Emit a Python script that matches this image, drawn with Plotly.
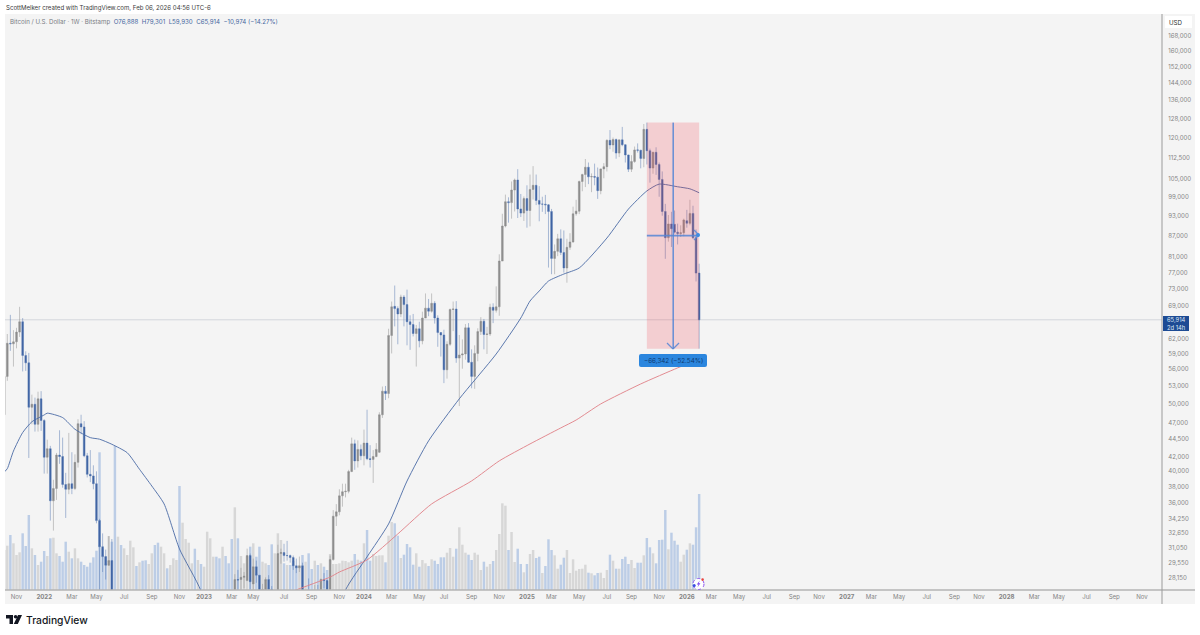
import pandas as pd
import plotly.graph_objects as go

W, H = 1200, 635
FONT = "Inter"

# weekly bars, Bitstamp BTCUSD
start_week = "2021-10-04"

week_open = [
    48200, 54700, 61000, 60900, 61300, 63300, 65500, 58600, 57200, 49400,
    49900, 46700, 50800, 47300, 41900, 43100, 36300, 37800, 42200, 42000,
    38300, 37700, 38400, 37800, 41200, 46800, 46300, 42100, 39600, 39400,
    38400, 34000, 31200, 30200, 29350, 29800, 26600, 20500, 21000, 19300,
    20800, 20850, 22600, 23300, 23200, 24300, 21500, 19600, 19990, 21800,
    19400, 18800, 19050, 19400, 19250, 19550, 20600, 20900, 16300, 16300,
    16400, 17100, 17100, 16800, 16850, 16600, 16900, 21100, 23100, 23700,
    23400, 21800, 24600, 23500, 22400, 20500, 28000, 28000, 28200, 27900,
    30300, 27600, 29200, 28400, 26900, 26900, 28000, 27100, 25800, 26500,
    30500, 30600, 30300, 30300, 30100, 29300, 29100, 29300, 26100, 26100,
    25900, 25800, 26500, 26300, 28000, 27900, 27100, 29900, 34500, 35000,
    36900, 37400, 37450, 39970, 43800, 41400, 43000, 42100, 43900, 41700,
    41600, 42000, 42600, 48200, 52100, 51700, 62600, 68900, 68400, 67200,
    71050, 69300, 65500, 64900, 63000, 64000, 61500, 66300, 68500, 67800,
    69600, 66300, 63200, 62700, 55900, 60800, 68200, 68300, 58100, 58700,
    58900, 64200, 57300, 54700, 59000, 63400, 65600, 62800, 62900, 68700,
    68000, 68800, 80000, 89800, 97300, 97000, 101100, 104500, 95000, 93700,
    98300, 94500, 101300, 102700, 97700, 96500, 96500, 96300, 94200, 80700,
    82600, 86100, 82300, 78200, 83700, 85200, 93500, 94300, 104000, 106400,
    109000, 105600, 105700, 105500, 100900, 108400, 109200, 119100, 117300, 119400,
    114200, 119300, 117400, 113500, 108300, 111100, 115400, 115300, 112200, 123500,
    115100, 108700, 114500, 110000, 104700, 94200, 86400, 90400, 90300, 88000,
    87600, 87800, 91400, 90600, 93600, 86400, 76888,
]
week_high = [
    56600, 62900, 67000, 63700, 64200, 68800, 66300, 59400, 59100, 51500,
    51000, 52000, 52100, 47500, 44400, 43500, 38900, 42500, 45800, 44700,
    39800, 45400, 42600, 42300, 47500, 48200, 47200, 42500, 42900, 40800,
    40000, 34200, 32600, 30900, 32300, 32000, 26900, 21900, 21500, 22400,
    21700, 24200, 24700, 23500, 25200, 25000, 21900, 20600, 22400, 22800,
    19700, 20300, 20500, 19900, 19700, 21000, 21400, 21000, 17200, 16800,
    17300, 17400, 18400, 17100, 16950, 17000, 21300, 23400, 23900, 24300,
    23500, 25200, 25100, 23900, 22600, 28500, 28900, 29100, 28700, 31000,
    30500, 30000, 29800, 28400, 27600, 28200, 28400, 27400, 26800, 31400,
    31000, 31500, 31800, 30400, 30300, 30000, 30200, 29600, 26800, 28100,
    26400, 27500, 27500, 28100, 28600, 28000, 30300, 35200, 35900, 37700,
    38400, 38400, 40200, 44700, 44400, 44300, 43700, 45900, 49000, 43600,
    42900, 43900, 48600, 52900, 53000, 64000, 70000, 73800, 68900, 71600,
    71500, 72800, 66900, 67200, 64800, 65500, 67700, 71900, 70600, 71900,
    70100, 66900, 63300, 63800, 61400, 68400, 70000, 70100, 62700, 61800,
    65000, 65200, 59800, 60600, 64100, 66500, 66100, 64400, 69500, 69600,
    73600, 81800, 93500, 99600, 98700, 104000, 105000, 108300, 99800, 99000,
    102700, 106400, 109400, 106400, 102400, 98900, 99500, 96500, 95000, 84500,
    87500, 88800, 88500, 86100, 87700, 95700, 97900, 104300, 106700, 112000,
    110700, 106800, 110300, 108900, 108500, 110500, 119500, 123200, 120200, 119800,
    119300, 124500, 117600, 113600, 113400, 116700, 117900, 115400, 125700, 126272,
    115900, 114700, 116400, 110700, 107500, 96600, 93100, 94100, 94500, 90500,
    90000, 92000, 94700, 97900, 96000, 88800, 79301,
]
week_low = [
    47100, 53900, 59500, 56500, 60000, 62300, 55600, 55700, 41800, 46700,
    45600, 45600, 45700, 39700, 39700, 34000, 32900, 36400, 41000, 37900,
    34300, 37100, 37100, 37600, 40500, 45200, 41900, 39200, 38600, 37700,
    33700, 26800, 28700, 28000, 29300, 26500, 17600, 19600, 18600, 19000,
    18900, 20700, 20700, 22400, 22700, 20800, 19600, 19500, 18500, 19300,
    18100, 18500, 19000, 18200, 18700, 19200, 20100, 15600, 15800, 15500,
    16000, 16700, 16300, 16400, 16300, 16500, 17100, 20600, 22300, 22700,
    21400, 21400, 23100, 21900, 19600, 19600, 26600, 26600, 27200, 27900,
    27100, 26900, 27700, 25900, 26500, 25900, 26600, 24800, 24800, 26300,
    29500, 29700, 29800, 29600, 28900, 28600, 28700, 25200, 25400, 25400,
    25400, 24900, 26000, 26000, 27200, 26500, 26700, 29800, 33400, 34600,
    35600, 36700, 37200, 39900, 40200, 40500, 41500, 40800, 41500, 40500,
    38500, 41900, 42500, 47700, 50600, 50900, 59000, 64500, 60800, 66500,
    64500, 60600, 59700, 62400, 56500, 60200, 60800, 66300, 66700, 67500,
    65100, 60300, 58400, 53500, 54300, 60500, 63500, 57200, 49600, 56100,
    57800, 57200, 52600, 52500, 57500, 62700, 59800, 58900, 62500, 65200,
    67500, 66800, 80000, 89400, 90800, 92000, 94200, 92200, 92500, 91300,
    89300, 89700, 98000, 96200, 91200, 94100, 93400, 78300, 76600, 76600,
    81300, 81600, 77000, 74500, 83000, 85000, 92900, 93400, 100700, 102100,
    103100, 100400, 102700, 98200, 99700, 105100, 107500, 115700, 114700, 112100,
    112700, 116800, 110700, 107300, 107300, 110600, 114400, 108600, 109000, 110000,
    103600, 106700, 106300, 98900, 92900, 80600, 85300, 83800, 87600, 84500,
    86600, 86800, 89300, 90000, 86000, 74800, 59930,
]
week_close = [
    54700, 61000, 60900, 61300, 63300, 65500, 58600, 57200, 49400, 49900,
    46700, 50800, 47300, 41900, 43100, 36300, 37800, 42200, 42000, 38300,
    37700, 38400, 37800, 41200, 46800, 46300, 42100, 39600, 39400, 38400,
    34000, 31200, 30200, 29350, 29800, 26600, 20500, 21000, 19300, 20800,
    20850, 22600, 23300, 23200, 24300, 21500, 19600, 19990, 21800, 19400,
    18800, 19050, 19400, 19250, 19550, 20600, 20900, 16300, 16300, 16400,
    17100, 17100, 16800, 16800, 16600, 16900, 21100, 23100, 23700, 23400,
    21800, 24600, 23500, 22400, 20500, 28000, 27950, 28200, 28300, 30300,
    27800, 29200, 28400, 26900, 27100, 28000, 27100, 25800, 26500, 30500,
    30600, 30300, 30300, 30100, 29300, 29100, 29300, 26100, 26100, 25900,
    25800, 26500, 26300, 28000, 27900, 27100, 29900, 34500, 35000, 36900,
    37400, 37450, 39970, 43800, 41400, 43000, 42100, 43900, 41700, 41600,
    42000, 43000, 48200, 52100, 51700, 62600, 68800, 68400, 67200, 71050,
    69300, 65500, 64900, 63000, 64000, 61500, 66300, 68500, 67800, 69600,
    66300, 63200, 62700, 55900, 60800, 68200, 68300, 58100, 58700, 58900,
    64200, 57300, 54700, 59000, 63400, 65600, 62800, 62900, 68700, 68000,
    68800, 80000, 89800, 97300, 97000, 101100, 104500, 95000, 93700, 98300,
    94500, 101300, 102700, 97700, 96500, 96500, 96300, 94200, 80700, 82600,
    86100, 82300, 78200, 83700, 85200, 93500, 94300, 104000, 106400, 109000,
    105600, 105700, 105500, 100900, 108400, 109200, 119100, 117300, 119400, 114200,
    119300, 117400, 113500, 108300, 111100, 115400, 115300, 112200, 123500, 115100,
    108700, 114500, 110000, 104700, 94200, 86400, 90400, 89000, 88000, 87600,
    87800, 91600, 90600, 93600, 86400, 76888, 65914,
]
volume = [
    40, 44.3, 55, 46.7, 35, 37.7, 56.7, 44, 75, 41.7,
    35, 25, 28.3, 39, 34, 51.7, 52.3, 36.7, 34, 28.3,
    48.3, 38.3, 31.7, 41.7, 31.7, 28.3, 25, 23.3, 27.3, 32.7,
    39.3, 137.7, 41.7, 33.3, 54, 48.3, 144, 53.3, 45, 41.7,
    35, 49.3, 42.7, 24, 27.7, 29.3, 29.7, 26, 36.7, 45,
    47.3, 43.3, 36.7, 21.7, 25, 31.7, 30, 104, 67.3, 51,
    47.3, 26.7, 41.3, 30, 26, 23.3, 58.3, 51.7, 33.3, 33.3,
    31.7, 43.3, 34, 26.7, 51, 82.7, 51.7, 34, 26.7, 33.3,
    43.3, 46.7, 33.3, 43.3, 28.3, 26.7, 25, 45.7, 36.7, 56.7,
    50, 26.7, 25, 25, 29, 23.3, 23.3, 35, 28.3, 36.7,
    21, 29.3, 25, 26.7, 23.3, 20, 36, 26, 26, 26.7,
    29.3, 29, 27.7, 29.3, 36, 30.3, 29.3, 46.7, 60, 29.3,
    36, 34, 34.7, 34.7, 27.7, 54.3, 68, 66.7, 54.3, 32,
    35.3, 46, 42.7, 25.3, 36.7, 23.3, 30, 26.7, 24, 30.7,
    29.3, 26, 32.7, 32.7, 37.3, 42, 33.3, 41.3, 62.7, 45.3,
    37.3, 35.3, 30, 37.3, 35.3, 20, 28.3, 23.3, 26, 29,
    40, 56, 86.7, 84.3, 40, 58, 28, 41.3, 26, 17.7,
    26, 36, 40, 32, 33.3, 17, 24, 50.7, 40, 34.7,
    21.3, 25.3, 32.3, 40, 17, 30.7, 19.3, 21, 21.3, 25.3,
    17.3, 16.7, 14.7, 17, 17.3, 12, 20, 35.3, 29.3, 21.3,
    21.3, 31, 33.3, 26, 30, 22, 27.3, 27.3, 34.7, 52,
    42.7, 36.7, 26.7, 50, 50.3, 80, 40.7, 57.3, 49.3, 45.3,
    28.3, 35.3, 40.3, 46.7, 45.3, 62.7, 96,
]

# moving averages, read at a few weeks along each line
ma_blue_week = [0, 1, 3, 6, 9, 13, 14, 19, 23, 28, 31, 35, 40, 44, 48, 52, 57, 64, 72, 100,
                111, 118, 125, 131, 138, 148, 160, 168, 171, 174, 177, 182, 187, 196, 203,
                209, 213, 219, 223, 226]
ma_blue = [39900, 40350, 42760, 45450, 47100, 48170, 48450, 47750, 45950, 44700, 44470, 43730,
           42530, 40270, 38110, 35920, 30970, 26960, 20000, 20000,
           27060, 30170, 33630, 38740, 44220, 50800, 58890, 66300, 70130, 72490, 74900, 76650,
           78200, 86300, 94950, 100800, 103100, 102200, 101500, 100200]
ma_red_week = [94, 106, 109, 118, 128, 139, 152, 161, 171, 181, 186, 194, 207, 219, 226]
ma_red = [26960, 28230, 28700, 29870, 32540, 35920, 38750, 41400, 43780, 46150, 47370, 49950,
          53350, 56250, 57900]

# right scale and bottom scale
price_ticks = [168000, 160000, 152000, 144000, 136000, 128000, 120000, 112500, 105000, 99000,
               93000, 87000, 81000, 77000, 73000, 69000, 62000, 59000, 56000, 53000, 50000,
               47000, 44500, 42000, 40000, 38000, 36000, 34250, 32650, 31050, 29550, 28150]
date_ticks = ["2021-11-01", "2022-01-03", "2022-03-07", "2022-05-02", "2022-07-04", "2022-09-05",
              "2022-11-07", "2023-01-02", "2023-03-06", "2023-04-24", "2023-07-03", "2023-09-04",
              "2023-11-06", "2024-01-01", "2024-03-04", "2024-05-06", "2024-07-01", "2024-09-02",
              "2024-11-04", "2025-01-06", "2025-03-03", "2025-05-05", "2025-07-07", "2025-09-01",
              "2025-11-03", "2026-01-05", "2026-03-02", "2026-05-04", "2026-07-06", "2026-09-07",
              "2026-11-02", "2027-01-04", "2027-03-01", "2027-05-03", "2027-07-05", "2027-09-06",
              "2027-11-01", "2028-01-03", "2028-03-06", "2028-05-01", "2028-07-03", "2028-09-04",
              "2028-11-06"]
date_labels = ["Nov", "<b>2022</b>", "Mar", "May", "Jul", "Sep",
               "Nov", "<b>2023</b>", "Mar", "May", "Jul", "Sep",
               "Nov", "<b>2024</b>", "Mar", "May", "Jul", "Sep",
               "Nov", "<b>2025</b>", "Mar", "May", "Jul", "Sep",
               "Nov", "<b>2026</b>", "Mar", "May", "Jul", "Sep",
               "Nov", "<b>2027</b>", "Mar", "May", "Jul", "Sep",
               "Nov", "<b>2028</b>", "Mar", "May", "Jul", "Sep",
               "Nov"]

# the measure tool drawn on the chart
measure_start, measure_end = "2025-10-06", "2026-02-02"
measure_mid = "2025-12-05"
measure_top, measure_bottom = 126272, 59930
measure_middle = 86990
last_price = 65914

assert len(week_open) == len(week_high) == len(week_low) == len(week_close) == len(volume) == 227

weeks = pd.date_range(start_week, periods=len(week_close), freq="7D")
vol_colors = ["#d7d7d7" if c >= o else "#bccde6" for o, c in zip(week_open, week_close)]


def fx(px):
    return px / W


def fy(py):
    return 1 - py / H


def box(x0, y0, x1, y1, color, layer="below"):
    return dict(type="rect", xref="paper", yref="paper", x0=fx(x0), y0=fy(y0), x1=fx(x1), y1=fy(y1),
                fillcolor=color, line_width=0, layer=layer)


def seg(x0, y0, x1, y1, color, width=1.0):
    return dict(type="line", xref="paper", yref="paper", x0=fx(x0), y0=fy(y0), x1=fx(x1), y1=fy(y1),
                line=dict(color=color, width=width), layer="above")


def poly(points, color):
    path = "M " + " L ".join(f"{fx(a)},{fy(b)}" for a, b in points) + " Z"
    return dict(type="path", xref="paper", yref="paper", path=path, fillcolor=color, line_width=0, layer="above")


def disc(cx, cy, r, fill, line=None, dash="solid"):
    return dict(type="circle", xref="paper", yref="paper", x0=fx(cx - r), x1=fx(cx + r), y0=fy(cy - r), y1=fy(cy + r),
                fillcolor=fill, line=dict(color=line or fill, width=1 if line else 0, dash=dash), layer="above")


fig = go.Figure()

fig.add_trace(go.Bar(x=weeks, y=volume, marker_color=vol_colors, marker_line_width=0,
                     yaxis="y", hoverinfo="skip", showlegend=False))
fig.add_trace(go.Candlestick(
    x=weeks, open=week_open, high=week_high, low=week_low, close=week_close, yaxis="y2",
    whiskerwidth=0, hoverinfo="skip", showlegend=False,
    increasing=dict(line=dict(color="rgba(140,140,140,0.6)", width=0.8), fillcolor="#8f8f8f"),
    decreasing=dict(line=dict(color="rgba(80,115,175,0.6)", width=0.8), fillcolor="#3f63a3"),
))
fig.add_trace(go.Scatter(x=weeks[ma_blue_week], y=ma_blue, yaxis="y2", mode="lines",
                         line=dict(color="#4a6aa5", width=0.9, shape="spline", smoothing=0.6),
                         hoverinfo="skip", showlegend=False))
fig.add_trace(go.Scatter(x=weeks[ma_red_week], y=ma_red, yaxis="y2", mode="lines",
                         line=dict(color="#e07f86", width=0.9, shape="spline", smoothing=0.6),
                         hoverinfo="skip", showlegend=False))

ARROW = "rgba(84,134,214,0.85)"
shapes = [
    box(5, 14, 1195, 604, "#f4f4f4"),
    box(1165, 16, 1192, 28, "#ffffff"),
    seg(5, 590, 1195, 590, "#b4b4b4", 1.3),
    seg(1162, 14, 1162, 604, "#9a9a9a", 1),
    # last price line
    dict(type="line", xref="paper", x0=fx(5), x1=fx(1162), yref="y2", y0=last_price, y1=last_price,
         line=dict(color="#d3d6dc", width=1), layer="below"),
    # measure box and its arrows
    dict(type="rect", xref="x", yref="y2", x0=measure_start, x1=measure_end, y0=measure_bottom, y1=measure_top,
         fillcolor="rgba(242,54,69,0.2)", line_width=0, layer="above"),
    dict(type="line", xref="x", yref="y2", x0=measure_mid, x1=measure_mid, y0=measure_top, y1=measure_bottom,
         line=dict(color=ARROW, width=1.6), layer="above"),
    dict(type="line", xref="x", yref="y2", x0=measure_start, x1=measure_end, y0=measure_middle, y1=measure_middle,
         line=dict(color=ARROW, width=1.6), layer="above"),
    seg(667, 343, 673, 349, ARROW, 1.3),
    seg(673, 349, 679, 343, ARROW, 1.3),
    seg(694, 230, 699, 235, ARROW, 1.3),
    seg(699, 235, 694, 240, ARROW, 1.3),
    disc(698, 235, 2, "#3f8de2"),
    # measure label background
    dict(type="path", xref="paper", yref="paper", fillcolor="#2b86de", line_width=0, layer="above",
         path=(f"M {fx(641)},{fy(354)} L {fx(705)},{fy(354)} Q {fx(707)},{fy(354)} {fx(707)},{fy(356)} "
               f"L {fx(707)},{fy(365)} Q {fx(707)},{fy(367)} {fx(705)},{fy(367)} "
               f"L {fx(641)},{fy(367)} Q {fx(639)},{fy(367)} {fx(639)},{fy(365)} "
               f"L {fx(639)},{fy(356)} Q {fx(639)},{fy(354)} {fx(641)},{fy(354)} Z")),
    # last price tag
    box(1163, 316, 1189, 331, "#1d4b94", "above"),
    # news flash icon
    disc(698.5, 584, 5.5, "#ffffff", "#8a4df0", "dot"),
    poly([(699.8, 580.5), (696.8, 584.5), (698.6, 584.5), (697.4, 587.5), (700.4, 583.3), (698.7, 583.3)], "#7a3ff0"),
    disc(702.6, 579.6, 1.3, "#e8433f"),
    disc(694.2, 585.6, 1.5, "#3b4de0"),
    # TradingView mark
    box(6, 615, 13, 618.5, "#131722", "above"),
    box(9.5, 618, 13, 624, "#131722", "above"),
    disc(15.6, 616.8, 1.8, "#131722"),
    poly([(18, 615), (22, 615), (17.8, 624), (13.8, 624)], "#131722"),
]

annotations = [
    dict(x=fx(5), y=fy(8), xanchor="left", text="ScottMelker created with TradingView.com, Feb 06, 2026 04:56 UTC-6",
         font=dict(size=6.1, color="#3c3c3c")),
    dict(x=fx(9), y=fy(21.5), xanchor="left",
         text=("<span style='color:#7a7d85'>Bitcoin / U.S. Dollar · 1W · Bitstamp</span>"
               "  O76,888  H79,301  L59,930  C65,914  −10,974 (−14.27%)"),
         font=dict(size=6.15, color="#46689f")),
    dict(x=fx(1176), y=fy(22), xanchor="center", text="USD", font=dict(size=6.2, color="#333333")),
    dict(x=fx(1176), y=fy(323.5), xanchor="center", text="65,914<br>2d 14h", align="center",
         font=dict(size=5.8, color="#dfe8f6")),
    dict(x=fx(673), y=fy(360.5), xanchor="center", text="−66,342 (−52.54%)", font=dict(size=6.3, color="#0e3a72")),
    dict(x=fx(25), y=fy(619.5), xanchor="left", text="TradingView", font=dict(size=10.3, color="#131722", weight=500)),
]
for a in annotations:
    a.update(xref="paper", yref="paper", showarrow=False, yanchor="middle", borderpad=0)

fig.update_layout(
    width=W, height=H, margin=dict(l=0, r=0, t=0, b=0),
    paper_bgcolor="#ffffff", plot_bgcolor="rgba(0,0,0,0)",
    font=dict(family=FONT, size=8, color="#8a8a8a"),
    showlegend=False, bargap=0.2, boxgap=0.2, dragmode=False,
    shapes=shapes, annotations=annotations,
    xaxis=dict(domain=[fx(5), fx(1162)], type="date", range=["2021-10-05 19:00", "2028-12-21 17:00"],
               rangeslider_visible=False, showgrid=False, zeroline=False, showline=False,
               tickmode="array", tickvals=date_ticks, ticktext=date_labels, ticks="outside", ticklen=1,
               tickcolor="rgba(0,0,0,0)", tickangle=0, tickfont=dict(size=6.1, color="#858585")),
    yaxis=dict(domain=[1 - 590 / H, 1 - 14 / H], range=[0, 576], visible=False, fixedrange=True),
    yaxis2=dict(domain=[1 - 590 / H, 1 - 14 / H], overlaying="y", side="right", type="log",
                range=[4.43215, 5.2568], showgrid=False, zeroline=False, showline=False,
                tickmode="array", tickvals=price_ticks, ticktext=[f"{v:,}" for v in price_ticks],
                ticks="outside", ticklen=4, tickcolor="rgba(0,0,0,0)",
                tickfont=dict(size=6.1, color="#858585")),
)

# the page's default body margin would push the chart 8px off
fig.write_html("out.html", config=dict(displayModeBar=False),
               post_script="document.body.style.margin='0';")
